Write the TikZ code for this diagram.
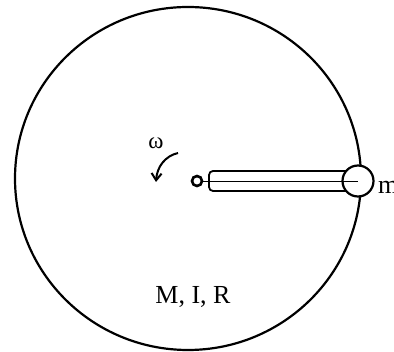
\documentclass[tikz,border=0pt]{standalone}
\usepackage{fontspec}
\setmainfont{Liberation Serif}
\usetikzlibrary{arrows.meta}
\tikzset{
  outline/.style={line width=2.2pt, draw=black},
  rodline/.style={line width=1.8pt, draw=black},
  thinline/.style={line width=0.9pt, draw=black},
  lbl/.style={inner sep=0pt, anchor=base west, font=\fontsize{26}{28}\selectfont},
}
\begin{document}
\begin{tikzpicture}[x=1pt,y=-1pt]
\useasboundingbox (0,0) rectangle (394,352);
% disk
\draw[outline] (188,178.5) ellipse [x radius=173, y radius=171.5];
% rod
\draw[rodline, rounded corners=4pt] (352,171) -- (209,171) -- (209,191) -- (352,191);
% mass
\node[circle, outline, fill=white, minimum size=31pt, inner sep=0pt] (mass) at (358,181) {};
% pivot
\node[circle, outline, line width=2.6pt, minimum size=10pt, inner sep=0pt] (pivot) at (197,181) {};
% center line
\draw[thinline] (pivot.east) -- (mass.center);
% labels
\node[lbl] (mlabel) at (378,194) {m};
\node[lbl, anchor=base, font=\fontsize{23}{24}\selectfont] (omega) at (156,149) {ω};
\node[lbl, anchor=base] (mir) at (193,304) {M, I, R};
% rotation arrow
\coordinate (w1) at (178,153);
\coordinate (w2) at (156,182);
\draw[line width=2pt, -{Straight Barb[length=7pt,width=10pt]}] (w1) .. controls (165,156) and (157,167) .. (w2);
\end{tikzpicture}
\end{document}
